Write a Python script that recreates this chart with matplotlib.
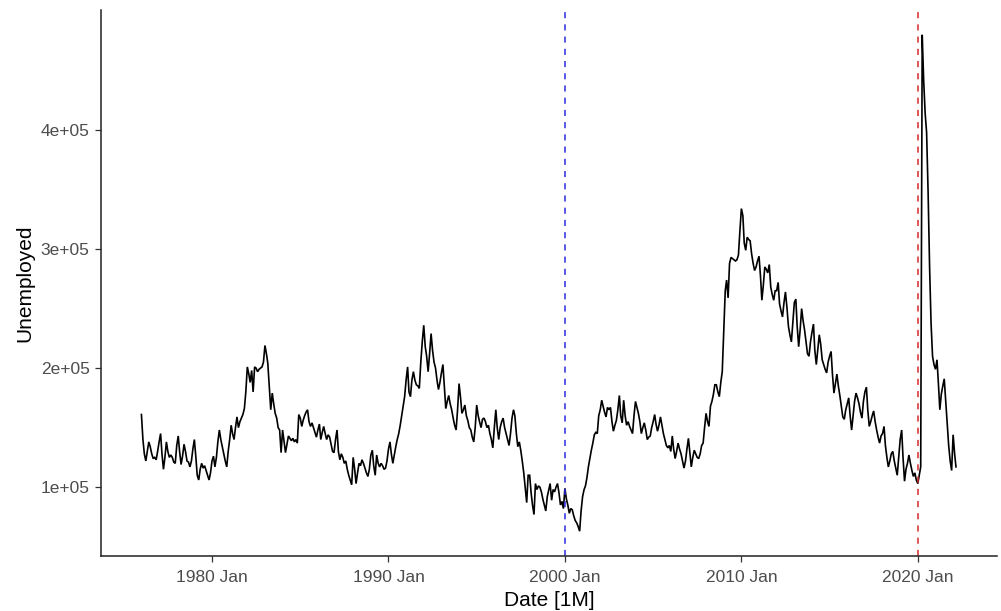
import numpy as np
import pandas as pd
import matplotlib
matplotlib.use("Agg")
import matplotlib.pyplot as plt

plt.rcParams['font.family'] = ['Liberation Sans', 'DejaVu Sans']

# Monthly unemployed persons (thousands), one row per calendar year, from Jan 1976
unemployed_1970s = [
    161, 140, 128, 122, 130, 138, 134, 128, 124, 125, 123, 130,   # 1976
    138, 145, 128, 115, 125, 138, 130, 125, 127, 125, 121, 120,   # 1977
    135, 143, 130, 119, 126, 136, 130, 122, 121, 117, 122, 132,   # 1978
    140, 125, 110, 106, 115, 120, 116, 118, 114, 110, 106, 112,   # 1979
]
unemployed_1980s = [
    122, 126, 117, 125, 138, 148, 140, 134, 128, 122, 117, 130,   # 1980
    140, 152, 145, 140, 150, 159, 150, 155, 158, 161, 166, 180,   # 1981
    201, 195, 188, 198, 180, 201, 200, 197, 199, 200, 201, 205,   # 1982
    219, 212, 204, 184, 165, 179, 170, 162, 158, 150, 148, 129,   # 1983
    148, 138, 129, 136, 143, 141, 139, 141, 138, 140, 137, 161,   # 1984
    158, 151, 156, 160, 163, 165, 155, 151, 154, 150, 146, 142,   # 1985
    148, 153, 140, 146, 151, 145, 140, 144, 142, 136, 130, 129,   # 1986
    140, 148, 130, 123, 128, 125, 120, 122, 115, 110, 106, 102,   # 1987
    125, 115, 103, 112, 120, 118, 123, 120, 116, 112, 109, 115,   # 1988
    127, 131, 118, 110, 127, 120, 117, 120, 118, 115, 116, 122,   # 1989
]
unemployed_1990s = [
    132, 138, 128, 120, 127, 134, 140, 145, 152, 160, 168, 176,   # 1990
    190, 201, 180, 176, 190, 197, 190, 186, 185, 183, 205, 222,   # 1991
    236, 218, 210, 197, 212, 229, 215, 205, 200, 190, 182, 188,   # 1992
    196, 203, 185, 166, 172, 177, 170, 165, 158, 152, 148, 165,   # 1993
    187, 175, 162, 165, 169, 160, 156, 150, 148, 142, 138, 150,   # 1994
    169, 160, 155, 150, 157, 158, 155, 150, 152, 145, 140, 133,   # 1995
    150, 165, 150, 140, 150, 155, 158, 150, 145, 140, 135, 145,   # 1996
    158, 165, 160, 145, 134, 138, 131, 122, 112, 100, 87, 110,    # 1997
    110, 95, 85, 77, 103, 98, 101, 100, 96, 90, 85, 80,           # 1998
    92, 98, 103, 89, 98, 96, 100, 103, 95, 85, 88, 82,            # 1999
]
unemployed_2000s = [
    99, 90, 85, 78, 82, 81, 76, 72, 70, 67, 63, 80,               # 2000
    92, 98, 101, 108, 117, 124, 131, 137, 144, 146, 145, 160,     # 2001
    165, 173, 168, 163, 159, 167, 165, 167, 155, 147, 152, 156,   # 2002
    165, 177, 160, 154, 173, 160, 152, 155, 151, 148, 145, 160,   # 2003
    172, 167, 162, 155, 145, 150, 154, 148, 140, 142, 143, 150,   # 2004
    155, 161, 153, 147, 152, 159, 152, 145, 140, 135, 133, 135,   # 2005
    130, 143, 132, 124, 130, 137, 132, 128, 122, 116, 122, 132,   # 2006
    141, 128, 117, 125, 131, 128, 125, 124, 128, 135, 137, 150,   # 2007
    162, 155, 151, 168, 172, 178, 186, 186, 180, 176, 188, 197,   # 2008
    232, 265, 274, 259, 288, 293, 292, 291, 290, 291, 295, 315,   # 2009
]
unemployed_2010s = [
    334, 328, 305, 299, 310, 308, 307, 296, 288, 282, 285, 290,   # 2010
    294, 277, 257, 270, 285, 283, 280, 287, 268, 262, 257, 265,   # 2011
    265, 272, 254, 248, 243, 255, 264, 251, 235, 228, 222, 238,   # 2012
    255, 258, 235, 218, 232, 250, 240, 232, 222, 212, 210, 222,   # 2013
    230, 237, 215, 203, 215, 228, 220, 207, 203, 199, 196, 205,   # 2014
    210, 214, 195, 179, 187, 195, 185, 177, 168, 159, 157, 165,   # 2015
    170, 175, 160, 148, 160, 172, 179, 175, 170, 163, 158, 172,   # 2016
    180, 184, 165, 151, 155, 160, 164, 155, 148, 142, 137, 143,   # 2017
    145, 151, 135, 125, 117, 122, 128, 130, 122, 116, 110, 125,   # 2018
    140, 148, 125, 105, 115, 120, 127, 120, 114, 109, 112, 106,   # 2019
]
unemployed_2020s = [
    103, 110, 117, 480, 442, 414, 398, 348, 285, 238, 210, 203,   # 2020
    199, 207, 188, 165, 178, 185, 191, 172, 154, 135, 122, 114,   # 2021
    144, 128, 117,                                                # 2022
]

first_month = "1976-01-01"
x_tick_years = [1980, 1990, 2000, 2010, 2020]
y_ticks = [100000, 200000, 300000, 400000]
y_tick_labels = ["1e+05", "2e+05", "3e+05", "4e+05"]
marker_months = ["2000-01-01", "2020-01-01"]
marker_colours = ["#2b2bdc", "#d82828"]

unemployed = np.concatenate([
    unemployed_1970s, unemployed_1980s, unemployed_1990s,
    unemployed_2000s, unemployed_2010s, unemployed_2020s,
]) * 1000
months = pd.date_range(first_month, periods=len(unemployed), freq="MS")

W, H = 1001, 611
fig = plt.figure(figsize=(W / 100, H / 100), dpi=100)
ax = fig.add_axes([100.7 / W, 55 / H, 896 / W, 546 / H])

ax.plot(months, unemployed, color="black", lw=1.2, solid_joinstyle="miter")
ax.margins(x=0.05, y=0.05)

for m, c in zip(marker_months, marker_colours):
    ax.axvline(pd.Timestamp(m), color=c, lw=1.1, ls=(0, (4, 4)))

ax.set_xticks([pd.Timestamp(f"{y}-01-01") for y in x_tick_years])
ax.set_xticklabels([f"{y} Jan" for y in x_tick_years])
ax.set_yticks(y_ticks)
ax.set_yticklabels(y_tick_labels)

for side in ("top", "right"):
    ax.spines[side].set_visible(False)
for side in ("left", "bottom"):
    ax.spines[side].set_color("#222222")
    ax.spines[side].set_linewidth(1.1)

ax.tick_params(axis="both", length=4, width=0.9, color="#333333",
               labelcolor="#4d4d4d", labelsize=12.5, pad=4)
ax.tick_params(axis="x", pad=6)

fig.text(549 / W, 1 - 600 / H, "Date [1M]", ha="center", va="center",
         fontsize=15, color="black")
fig.text(25 / W, 1 - 283 / H, "Unemployed", ha="center", va="center",
         rotation=90, fontsize=15, color="black")

fig.savefig("out.png", dpi=100, facecolor="white")
